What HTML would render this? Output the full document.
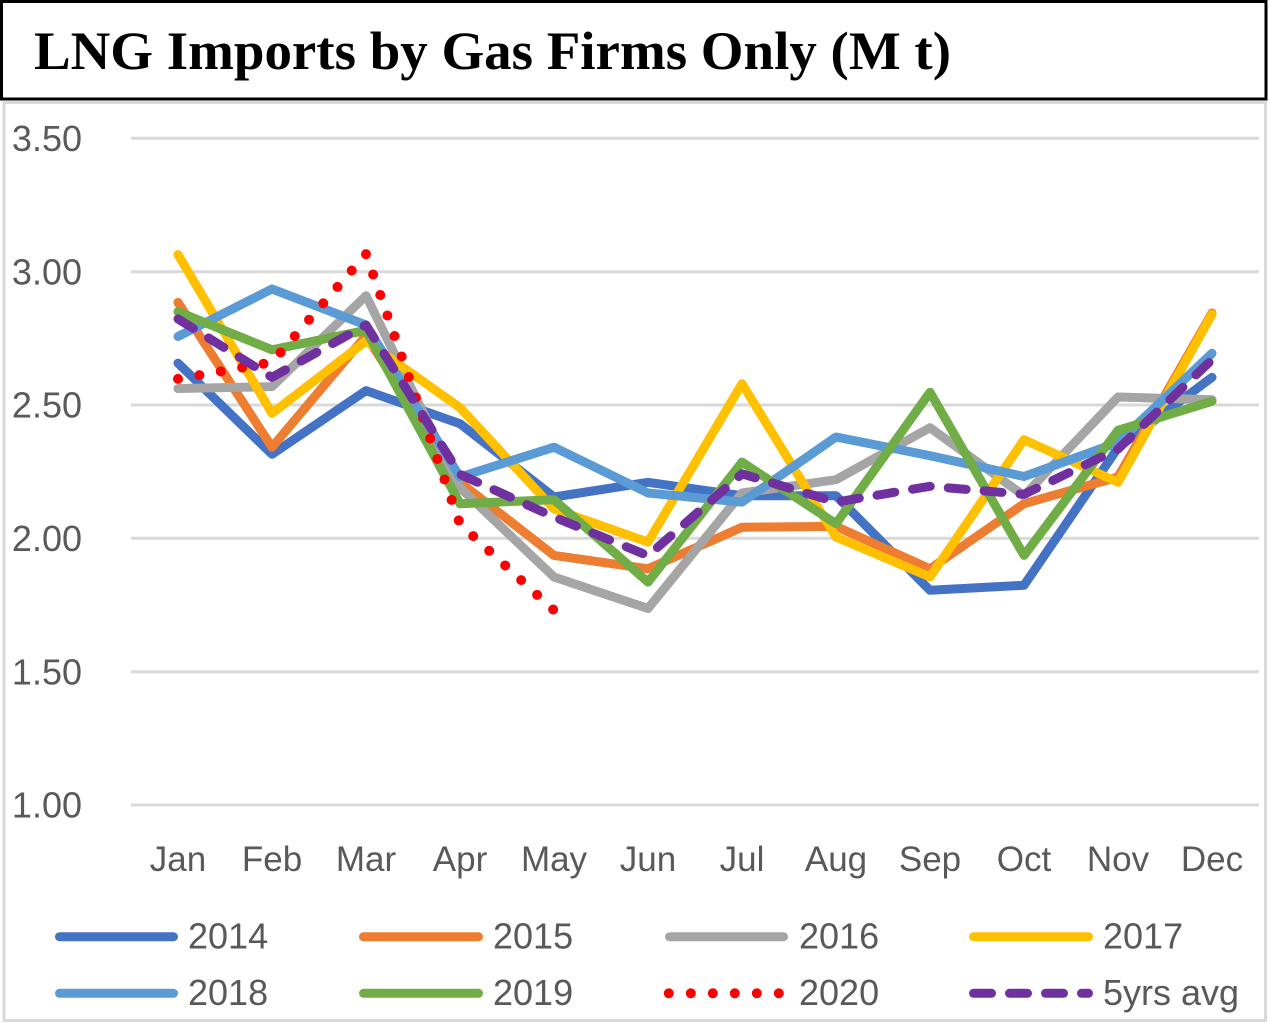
<!DOCTYPE html>
<html>
<head>
<meta charset="utf-8">
<style>
html,body{margin:0;padding:0;background:#fff;}
svg{display:block;}
.ax{font-family:"Liberation Sans",sans-serif;fill:#595959;}
</style>
</head>
<body>
<svg width="1269" height="1023" viewBox="0 0 1269 1023" xmlns="http://www.w3.org/2000/svg">
  <rect x="0" y="0" width="1269" height="1023" fill="#fff"/>
  <!-- chart outer border -->
  <rect x="4" y="102.5" width="1261.5" height="918" fill="none" stroke="#d9d9d9" stroke-width="3"/>
  <!-- title box -->
  <rect x="1.5" y="1.5" width="1264.5" height="97.5" fill="#fff" stroke="#000" stroke-width="3"/>
  <text x="34" y="69" font-family="Liberation Serif, serif" font-weight="bold" font-size="54" fill="#000" textLength="917" lengthAdjust="spacingAndGlyphs">LNG Imports by Gas Firms Only (M t)</text>

  <!-- gridlines -->
  <g stroke="#d9d9d9" stroke-width="3">
    <line x1="131" y1="138.3" x2="1259" y2="138.3"/>
    <line x1="131" y1="271.7" x2="1259" y2="271.7"/>
    <line x1="131" y1="405" x2="1259" y2="405"/>
    <line x1="131" y1="538.3" x2="1259" y2="538.3"/>
    <line x1="131" y1="671.7" x2="1259" y2="671.7"/>
    <line x1="131" y1="805" x2="1259" y2="805"/>
  </g>

  <!-- y labels -->
  <g class="ax" font-size="36" text-anchor="end">
    <text x="82" y="151">3.50</text>
    <text x="82" y="284.3">3.00</text>
    <text x="82" y="417.6">2.50</text>
    <text x="82" y="551">2.00</text>
    <text x="82" y="684.3">1.50</text>
    <text x="82" y="817.6">1.00</text>
  </g>

  <!-- x labels -->
  <g class="ax" font-size="35" text-anchor="middle">
    <text x="178" y="871">Jan</text>
    <text x="272" y="871">Feb</text>
    <text x="366" y="871">Mar</text>
    <text x="460" y="871">Apr</text>
    <text x="554" y="871">May</text>
    <text x="648" y="871">Jun</text>
    <text x="742" y="871">Jul</text>
    <text x="836" y="871">Aug</text>
    <text x="930" y="871">Sep</text>
    <text x="1024" y="871">Oct</text>
    <text x="1118" y="871">Nov</text>
    <text x="1212" y="871">Dec</text>
  </g>

  <!-- series -->
  <g fill="none" stroke-width="9" stroke-linejoin="round" stroke-linecap="round">
    <polyline stroke="#4472C4" points="178,363.1 272,454.3 366,390.6 460,423.7 554,497 648,482.3 742,495.7 836,495.7 930,590.3 1024,585.3 1118,447.7 1212,377.3"/>
    <polyline stroke="#ED7D31" points="178,302.4 272,447.2 366,335.7 460,482.3 554,555.4 648,568.8 742,527.2 836,526.4 930,568.8 1024,503.7 1118,477 1212,313"/>
    <polyline stroke="#A5A5A5" points="178,388.5 272,386.6 366,295.7 460,487.7 554,577 648,608.5 742,493 836,479.7 930,427.7 1024,495.7 1118,397 1212,399.7"/>
    <polyline stroke="#FFC000" points="178,254.6 272,413.3 366,341 460,407.7 554,509 648,542.1 742,383.7 836,537 930,577 1024,439.7 1118,482.3 1212,314.4"/>
    <polyline stroke="#5B9BD5" points="178,336.5 272,289 366,325 460,477 554,447.2 648,493 742,502.1 836,437 930,455.7 1024,476.5 1118,442.4 1212,353.3"/>
    <polyline stroke="#70AD47" points="178,311.7 272,349.8 366,330.3 460,503.7 554,499.7 648,582.1 742,462.1 836,523.7 930,392.2 1024,555.4 1118,430.3 1212,401.3"/>
    <polyline stroke="#FF0000" stroke-width="10" stroke-dasharray="0 21.7" points="178,378.9 272,362.3 366,254.1 460,524 554,610.3"/>
    <polyline stroke="#7030A0" stroke-width="9" stroke-dasharray="18 18" points="178,318.9 272,377.3 366,325 460,474.3 554,517 648,555.7 742,473.8 836,502.1 930,486.3 1024,494.3 1118,449 1212,359.7"/>
  </g>

  <!-- legend -->
  <g fill="none" stroke-width="9" stroke-linecap="round">
    <line x1="59.5" y1="936.7" x2="173.5" y2="936.7" stroke="#4472C4"/>
    <line x1="363.5" y1="936.7" x2="478.5" y2="936.7" stroke="#ED7D31"/>
    <line x1="669.5" y1="936.7" x2="783.5" y2="936.7" stroke="#A5A5A5"/>
    <line x1="973.5" y1="936.7" x2="1088.5" y2="936.7" stroke="#FFC000"/>
    <line x1="59.5" y1="993.3" x2="173.5" y2="993.3" stroke="#5B9BD5"/>
    <line x1="363.5" y1="993.3" x2="478.5" y2="993.3" stroke="#70AD47"/>
    <line x1="668.8" y1="993.3" x2="780" y2="993.3" stroke="#FF0000" stroke-width="10" stroke-dasharray="0 22"/>
    <line x1="973.5" y1="993.3" x2="1088.5" y2="993.3" stroke="#7030A0" stroke-dasharray="18 18"/>
  </g>
  <g class="ax" font-size="36">
    <text x="188" y="948.5">2014</text>
    <text x="493" y="948.5">2015</text>
    <text x="799" y="948.5">2016</text>
    <text x="1103" y="948.5">2017</text>
    <text x="188" y="1005">2018</text>
    <text x="493" y="1005">2019</text>
    <text x="799" y="1005">2020</text>
    <text x="1103" y="1005">5yrs avg</text>
  </g>
</svg>
</body>
</html>
